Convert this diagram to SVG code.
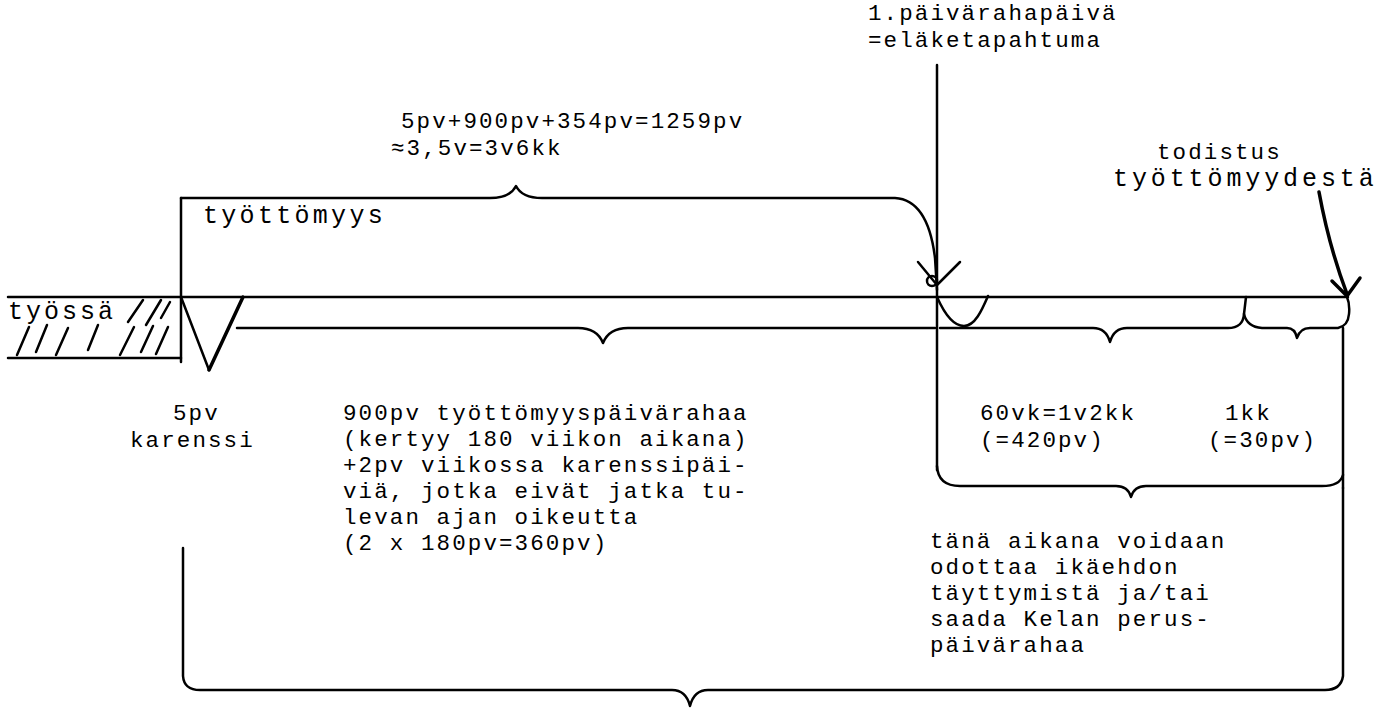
<svg xmlns="http://www.w3.org/2000/svg" width="1387" height="722" viewBox="0 0 1387 722">
<style>
text{font-family:"Liberation Mono","DejaVu Sans Mono",monospace;font-size:22.5px;letter-spacing:2.1px;fill:#000}
text.w{font-size:25px;letter-spacing:3.3px}
.ln{fill:none;stroke:#000;stroke-width:2.5;stroke-linecap:round;stroke-linejoin:round}
.th{fill:none;stroke:#000;stroke-width:3.5;stroke-linecap:round;stroke-linejoin:round}
.ht{fill:none;stroke:#000;stroke-width:2.5;stroke-linecap:round}
</style>
<rect width="1387" height="722" fill="#fff"/>
<g id="connectors">
<!-- main timeline -->
<path class="ln" d="M8,297 H1348"/>
<!-- working box -->
<path class="ln" d="M8,358 H181"/>
<path class="ln" d="M181,198 V362"/>
<g id="hatch">
<path class="ht" d="M17,355 L29,327 M36,352 L47,325 M56,355 L68,328 M88,350 L98,325 M120,355 L134,327 M141,352 L153,326 M156,354 L168,327 M128,322 L143,300 M146,325 L161,300 M161,318 L170,302"/>
</g>
<!-- työttömyys bracket -->
<path class="ln" d="M181,198 H490 Q510,198 516,186 Q522,198 542,198 H895 Q928,200 935,258 L937,290"/>
<!-- karenssi V -->
<path class="ln" d="M181,297 L209,370"/>
<path class="th" d="M209,370 L243,297"/>
<!-- 900pv brace -->
<path class="ln" d="M237,328 H578 Q597,328 603,343 Q609,328 628,328 H935"/>
<!-- 1. päivärahapäivä arrow -->
<path class="ln" d="M937,65 V470"/>
<path class="ln" d="M918,262 L937,285 L960,262"/>
<circle class="ln" cx="932" cy="281" r="5"/>
<!-- rounded U -->
<path class="ln" d="M937,297 C945,315 954,326 964,326 C975,326 982,310 988,296"/>
<!-- right brace -->
<path class="ln" d="M940,328 H1093 Q1106,328 1110,342 Q1114,328 1127,328 H1228 Q1243,328 1244,314 L1246,297"/>
<path class="ln" d="M1244,314 Q1247,327 1262,328 H1287 Q1295,328 1297,338 Q1300,328 1310,328 H1338 Q1348,326 1349,314 Q1350,304 1347,297"/>
<path class="ln" d="M1343,328 V488"/>
<!-- todistus arrow -->
<path class="th" d="M1319,192 C1326,230 1336,265 1347,294"/>
<path class="th" d="M1332,281 L1347,296 L1360,278"/>
<!-- 60vk brace -->
<path class="ln" d="M937,466 Q938,486 960,486 H1116 Q1128,486 1131,497 Q1134,486 1146,486 H1322 Q1340,486 1343,475"/>
<!-- big bottom brace -->
<path class="ln" d="M183,548 V676 Q184,690 200,690 H672 Q686,690 690,706 Q694,690 708,690 H1325 Q1341,690 1343,676 V488"/>
</g>
<g id="labels">
<text x="868" y="20">1.päivärahapäivä</text>
<text x="868" y="47">=eläketapahtuma</text>
<text x="401" y="128">5pv+900pv+354pv=1259pv</text>
<text x="391" y="155">≈3,5v=3v6kk</text>
<text x="1157" y="159">todistus</text>
<text class="w" x="1113" y="186" style="letter-spacing:3.9px">työttömyydestä</text>
<text class="w" x="203" y="223">työttömyys</text>
<text class="w" x="8" y="319" style="letter-spacing:3px">työssä</text>
<text x="173" y="420">5pv</text>
<text x="130" y="447">karenssi</text>
<text x="343" y="420">900pv työttömyyspäivärahaa</text>
<text x="343" y="446">(kertyy 180 viikon aikana)</text>
<text x="343" y="472">+2pv viikossa karenssipäi-</text>
<text x="343" y="498">viä, jotka eivät jatka tu-</text>
<text x="343" y="524">levan ajan oikeutta</text>
<text x="343" y="550">(2 x 180pv=360pv)</text>
<text x="980" y="420">60vk=1v2kk</text>
<text x="980" y="447">(=420pv)</text>
<text x="1225" y="420">1kk</text>
<text x="1208" y="447">(=30pv)</text>
<text x="930" y="548">tänä aikana voidaan</text>
<text x="930" y="574">odottaa ikäehdon</text>
<text x="930" y="600">täyttymistä ja/tai</text>
<text x="930" y="626">saada Kelan perus-</text>
<text x="930" y="652">päivärahaa</text>
</g>
</svg>
